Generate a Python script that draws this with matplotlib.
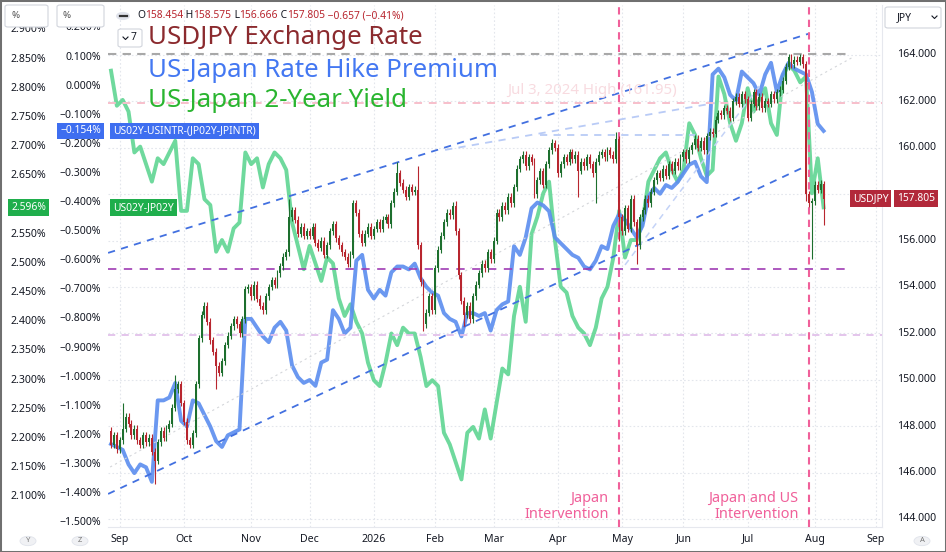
import numpy as np
import pandas as pd
import matplotlib
matplotlib.use('Agg')
import matplotlib.pyplot as plt
from matplotlib.transforms import blended_transform_factory as blend
from matplotlib.patches import Rectangle, FancyBboxPatch, Circle
from matplotlib.lines import Line2D

plt.rcParams['font.family'] = ['Noto Sans', 'DejaVu Sans']

# ---- data (daily bars, weekdays from 2025-08-27, no bar on Dec 25 / Jan 1) ----
usdjpy_open0 = 147.8
usdjpy_close = [
    147.2, 147.6, 147.0, 147.4, 147.9, 148.4, 148.1, 147.6, 147.9, 147.4,
    147.2, 147.6, 147.3, 147.5, 146.9, 146.5, 147.3, 147.8, 147.5, 147.9,
    148.1, 148.8, 149.6, 149.8, 149.0, 148.2, 147.4, 147.2, 147.7, 149.8,
    151.8, 152.8, 153.2, 152.5, 151.7, 151.2, 150.6, 150.3, 150.8, 151.5,
    151.9, 152.3, 152.6, 152.4, 152.0, 152.6, 153.9, 154.0, 153.6, 154.1,
    153.5, 153.2, 153.0, 153.6, 154.0, 154.3, 154.1, 154.6, 154.9, 155.3,
    155.5, 157.0, 157.3, 156.9, 156.3, 156.6, 156.2, 156.4, 156.2, 156.6,
    155.9, 155.7, 156.0, 155.4, 155.8, 156.4, 156.7, 156.1, 155.8, 155.5,
    155.3, 155.0, 155.4, 157.6, 157.2, 156.3, 155.9, 156.3, 156.6, 156.2,
    156.5, 156.8, 156.5, 156.9, 157.0, 156.7, 157.6, 158.1, 158.9, 158.5,
    158.2, 157.9, 158.3, 158.1, 158.2, 155.8, 154.2, 152.4, 152.9, 153.6,
    153.0, 154.8, 155.6, 156.2, 156.8, 157.2, 157.1, 157.5, 156.4, 154.5,
    153.4, 152.8, 153.2, 152.6, 153.6, 154.1, 154.6, 155.0, 154.8, 155.5,
    155.2, 156.0, 157.2, 157.0, 157.5, 157.3, 157.9, 157.6, 158.3, 159.1,
    159.5, 159.7, 159.2, 159.6, 159.4, 158.0, 158.6, 159.0, 158.4, 159.3,
    159.9, 160.2, 160.0, 158.9, 159.3, 159.6, 159.4, 159.8, 159.5, 159.7,
    159.0, 159.4, 159.2, 159.6, 159.3, 158.9, 159.4, 159.7, 159.8,
    159.6, 159.9, 159.7, 159.5, 160.4, 157.0, 156.4, 157.4, 156.5, 157.8,
    156.8, 155.8, 157.0, 157.3, 157.8, 157.6, 158.1, 158.6, 158.9, 158.7,
    159.1, 158.8, 159.3, 159.0, 159.4, 159.2, 159.6, 159.8, 159.5,
    159.9, 160.1, 160.4, 160.0, 160.3, 159.9, 160.5, 160.7, 160.6, 161.2,
    161.5, 161.4, 161.7, 161.6, 161.3, 162.0, 162.2, 161.9, 162.3, 162.1,
    161.3, 161.9, 162.4, 161.8, 162.2, 161.7, 162.0, 161.9, 162.3, 162.1,
    162.4, 162.5, 162.9, 163.5, 163.9, 163.6, 163.8, 163.7, 163.9, 163.6,
    158.0, 157.6, 157.7, 158.4, 158.2, 158.454, 157.805,
]
# notable wick extremes (bar index -> price)
usdjpy_high_marks = {4: 149.0, 22: 150.2, 61: 157.8, 98: 159.4, 105: 159.2, 118: 157.7,
                     151: 160.4, 173: 160.7, 174: 160.5, 244: 158.575}
usdjpy_low_marks = {15: 145.5, 36: 149.6, 107: 152.1, 121: 152.3, 160: 157.9, 166: 157.6,
                    174: 156.0, 180: 155.0, 238: 157.7, 240: 155.2, 244: 156.666}

# every second bar
rate_premium = [
    -1.23, -1.24, -1.25, -1.30, -1.33, -1.30, -1.31, -1.36, -1.08, -1.08,
    -1.07, -1.02, -1.15, -1.17, -1.08, -1.09, -1.13, -1.17, -1.22, -1.24,
    -1.20, -1.19, -1.18, -0.80, -0.80, -0.83, -0.86, -0.88, -0.83, -0.81,
    -0.84, -0.96, -1.00, -1.02, -1.01, -1.03, -0.95, -0.94, -0.77, -0.80,
    -0.85, -0.83, -0.60, -0.58, -0.70, -0.73, -0.70, -0.72, -0.64, -0.62,
    -0.62, -0.63, -0.61, -0.66, -0.69, -0.71, -0.72, -0.78, -0.80, -0.81,
    -0.86, -0.78, -0.78, -0.79, -0.78, -0.84, -0.77, -0.75, -0.74, -0.55,
    -0.58, -0.52, -0.42, -0.40, -0.41, -0.43, -0.52, -0.54, -0.56, -0.58,
    -0.59, -0.62, -0.63, -0.60, -0.55, -0.56, -0.48, -0.44, -0.46, -0.49,
    -0.52, -0.48, -0.38, -0.35, -0.37, -0.34, -0.35, -0.33, -0.30, -0.27,
    -0.26, -0.31, -0.33, 0.04, 0.06, 0.03, -0.03, -0.05, 0.05, 0.03,
    0.01, -0.03, 0.04, 0.08, -0.02, 0.04, 0.08, 0.06, 0.05, 0.04,
    -0.02, -0.13, -0.154,
]
yield_spread = [
    2.83, 2.77, 2.78, 2.76, 2.69, 2.70, 2.67, 2.64, 2.68, 2.67,
    2.69, 2.71, 2.59, 2.59, 2.68, 2.67, 2.61, 2.60, 2.52, 2.54,
    2.52, 2.56, 2.57, 2.69, 2.67, 2.68, 2.63, 2.67, 2.69, 2.68,
    2.66, 2.57, 2.53, 2.49, 2.53, 2.50, 2.47, 2.51, 2.50, 2.44,
    2.41, 2.43, 2.40, 2.38, 2.33, 2.30, 2.29, 2.33, 2.38, 2.36,
    2.39, 2.38, 2.38, 2.34, 2.29, 2.30, 2.29, 2.21, 2.19, 2.16,
    2.13, 2.21, 2.22, 2.20, 2.25, 2.20, 2.26, 2.32, 2.31, 2.41,
    2.46, 2.40, 2.55, 2.58, 2.62, 2.64, 2.54, 2.46, 2.45, 2.41,
    2.39, 2.38, 2.36, 2.39, 2.44, 2.46, 2.51, 2.59, 2.51, 2.54,
    2.54, 2.57, 2.64, 2.66, 2.68, 2.69, 2.66, 2.64, 2.66, 2.74,
    2.72, 2.68, 2.65, 2.66, 2.82, 2.79, 2.74, 2.71, 2.74, 2.80,
    2.76, 2.78, 2.80, 2.74, 2.72, 2.82, 2.84, 2.83, 2.81, 2.82,
    2.62, 2.68, 2.596,
]

# chart drawings (bar index, price)
channel_upper = ([-1.0, 238.7], [155.47, 164.91])
channel_lower = ([-1.0, 237.3], [145.08, 159.17])
pale_rising = ([114.4, 206.8], [159.91, 161.93])
pale_flat = ([147.0, 200.0], [160.55, 160.55])
pale_steep = ([176.0, 222.3], [154.95, 162.71])
grey_diag = ([-0.3, 254.1], [146.24, 163.91])
level_top = 164.04
level_purple = 154.78
level_jul2024 = 161.95
level_lavender = 151.93
interventions = [174, 239]
intervention_text = ['Japan\nIntervention', 'Japan and US\nIntervention']

# tick values; 158 and 2.60 sit under the last-value boxes
price_ticks = [144, 146, 148, 150, 152, 154, 156, 158, 160, 162, 164]
premium_ticks = [-1.5, -1.4, -1.3, -1.2, -1.1, -1.0, -0.9, -0.8, -0.7, -0.6, -0.5,
                 -0.4, -0.3, -0.2, -0.1, 0.0, 0.1, 0.2]
yield_ticks = [2.10, 2.15, 2.20, 2.25, 2.30, 2.35, 2.40, 2.45, 2.50, 2.55, 2.60,
               2.65, 2.70, 2.75, 2.80, 2.85, 2.90]
hidden_price, hidden_yield = [158], [2.60]

# ---- colours ----
UP, DN = '#1d6f2e', '#b8262f'
BLUE_L, GREEN_L = '#5b8def', '#5fd592'
TXT = '#131722'
PINK = '#f0609a'

W, H = 946, 552
fig = plt.figure(figsize=(W / 100, H / 100), dpi=100)
L, R, T, B = 108, 882, 5, 527
ax_g = fig.add_axes([L / W, 1 - B / H, (R - L) / W, (B - T) / H])
ax_b = ax_g.twinx()
ax_p = ax_g.twinx()

x0, x1 = -1.03, 264.0
for a, lim in ((ax_g, (2.0486, 2.9425)), (ax_b, (-1.5151, 0.2787)), (ax_p, (143.655, 166.155))):
    a.set_xlim(x0, x1)
    a.set_ylim(*lim)
    a.tick_params(left=False, right=False, bottom=False, labelleft=False,
                  labelright=False, labelbottom=False)
    for s in a.spines.values():
        s.set_visible(False)
ax_g.spines['bottom'].set_visible(True)
ax_g.spines['bottom'].set_color('#e6e8ee')
ax_g.spines['right'].set_visible(True)
ax_g.spines['right'].set_color('#e6e8ee')

# time axis from trading days
days = pd.bdate_range('2025-08-27', '2026-09-30')
days = days[~days.isin(pd.to_datetime(['2025-12-25', '2026-01-01']))]
month_pos, month_lab = [], []
for i in range(1, len(days)):
    if days[i].month != days[i - 1].month and i < x1:
        month_pos.append(i)
        month_lab.append('2026' if days[i].month == 1 else days[i].strftime('%b'))

# grid
gkw = dict(color='#e3e6ec', lw=0.8, ls=(0, (1.5, 2)), zorder=0)
for m in month_pos:
    ax_g.axvline(m, **gkw)
for p in price_ticks:
    ax_g.plot([0, 1], [p, p], transform=blend(ax_g.transAxes, ax_p.transData), **gkw)

# lines
xg = np.arange(len(yield_spread)) * 2
xb = np.arange(len(rate_premium)) * 2
ax_g.plot(xg, yield_spread, color=GREEN_L, lw=2.8, alpha=0.9, solid_joinstyle='round', zorder=2)
ax_b.plot(xb, rate_premium, color=BLUE_L, lw=2.8, alpha=0.9, solid_joinstyle='round', zorder=2)

# drawings
def seg(pts, **kw):
    ax_p.plot(pts[0], pts[1], zorder=1, **kw)

seg(channel_upper, color='#4270e0', lw=1.3, dashes=(4, 3.5))
seg(channel_lower, color='#4270e0', lw=1.3, dashes=(4, 3.5))
seg(pale_rising, color='#b9cbf6', lw=1.3, dashes=(4, 3.5))
seg(pale_flat, color='#b9cbf6', lw=1.3, dashes=(4, 3.5))
seg(pale_steep, color='#c4d3f7', lw=1.1, dashes=(4, 3.5))
seg(grey_diag, color='#d4d6da', lw=0.8, dashes=(2, 3))
seg(([x0, 253], [level_top, level_top]), color='#a8a8a8', lw=1.5, dashes=(4, 3))
seg(([x0, 253], [level_purple, level_purple]), color='#a03cb4', lw=1.2, dashes=(5, 4.5))
seg(([x0, x1], [level_jul2024, level_jul2024]), color='#f7bfcb', lw=1.4, dashes=(4, 3.5))
seg(([x0, x1], [level_lavender, level_lavender]), color='#e2c0ea', lw=1.3, dashes=(4, 3.5))
for xv, txt in zip(interventions, intervention_text):
    ax_p.axvline(xv, color=PINK, lw=1.5, dashes=(3.5, 2.5), zorder=1)
    ax_p.text(xv - 3.6, 0.040, txt, transform=blend(ax_p.transData, ax_p.transAxes),
              ha='right', va='center', multialignment='right', color=PINK,
              fontsize=10.4, linespacing=1.1, zorder=6)
ax_p.text(135.6, 162.45, 'Jul 3, 2024 High (161.95)', color='#f8dbe0', fontsize=10.8,
          ha='left', va='center', zorder=1)

# candles
close = np.array(usdjpy_close)
opn = np.r_[usdjpy_open0, close[:-1]]
xc = np.arange(len(close))
hi = np.maximum(opn, close) + 0.15
lo = np.minimum(opn, close) - 0.15
for k, v in usdjpy_high_marks.items():
    hi[k] = v
for k, v in usdjpy_low_marks.items():
    lo[k] = v
cols = np.where(close >= opn, UP, DN)
ax_p.vlines(xc, lo, hi, colors=cols, lw=0.8, zorder=3)
ax_p.bar(xc, np.maximum(np.abs(close - opn), 0.06), bottom=np.minimum(opn, close),
         width=0.66, color=cols, linewidth=0, zorder=4)

# axis labels
fs = 7.6
tg = blend(ax_p.transAxes, ax_g.transData)
tb = blend(ax_p.transAxes, ax_b.transData)
tp = blend(ax_p.transAxes, ax_p.transData)
for v in yield_ticks:
    if v in hidden_yield:
        continue
    ax_p.text(-0.080, v, f'{v:.3f}%', transform=tg, ha='right', va='center', fontsize=fs,
              color=TXT, fontweight='bold' if round(v * 1000) % 100 == 0 else 'normal',
              clip_on=False)
for v in premium_ticks:
    s = f'{v:.3f}%'.replace('-', '\u2212')
    ax_p.text(-0.009, v, s, transform=tb, ha='right', va='center', fontsize=fs, color=TXT,
              fontweight='bold' if v in (0.0, -1.5) else 'normal', clip_on=False)
for v in price_ticks:
    if v in hidden_price:
        continue
    ax_p.text(1.0194, v, f'{v:.3f}', transform=tp, ha='left', va='center', fontsize=fs,
              color=TXT, fontweight='bold' if v % 10 == 0 else 'normal', clip_on=False)
for m, lab in zip(month_pos, month_lab):
    ax_p.text(m, -0.023, lab, transform=blend(ax_p.transData, ax_p.transAxes), ha='center',
              va='center', fontsize=fs, color=TXT,
              fontweight='bold' if lab == '2026' else 'normal', clip_on=False)

# last value labels
lbl = dict(fontsize=7.4, color='white', va='center', zorder=12, clip_on=False)
ax_p.text(-0.009, rate_premium[-1], f'{rate_premium[-1]:.3f}%'.replace('-', '\u2212'),
          transform=tb, ha='right',
          bbox=dict(boxstyle='square,pad=0.28', fc='#3e6ef0', ec='none'), **lbl)
ax_p.text(0.0065, rate_premium[-1], 'US02Y-USINTR-(JP02Y-JPINTR)', transform=tb, ha='left',
          bbox=dict(boxstyle='square,pad=0.28', fc='#3e6ef0', ec='none'), **lbl)
ax_p.text(-0.080, yield_spread[-1], f'{yield_spread[-1]:.3f}%', transform=tg, ha='right',
          bbox=dict(boxstyle='square,pad=0.28', fc='#1fae4c', ec='none'), **lbl)
ax_p.text(0.0065, yield_spread[-1], 'US02Y-JP02Y', transform=tg, ha='left',
          bbox=dict(boxstyle='square,pad=0.28', fc='#1fae4c', ec='none'), **lbl)
ax_p.text(1.0085, close[-1], 'USDJPY', transform=tp, ha='right',
          bbox=dict(boxstyle='square,pad=0.28', fc='#b2283a', ec='none'), **lbl)
ax_p.text(1.0194, close[-1], f'{close[-1]:.3f}', transform=tp, ha='left',
          bbox=dict(boxstyle='square,pad=0.28', fc='#b2283a', ec='none'), **lbl)

# titles
ax_p.text(0.0517, 0.937, 'USDJPY Exchange Rate', transform=ax_p.transAxes, fontsize=18.6,
          color='#8b2a2e', va='center', zorder=7)
ax_p.text(0.0517, 0.874, 'US-Japan Rate Hike Premium', transform=ax_p.transAxes,
          fontsize=18.6, color='#4478f2', va='center', zorder=7)
ax_p.text(0.0517, 0.818, 'US-Japan 2-Year Yield', transform=ax_p.transAxes, fontsize=18.6,
          color='#2ab530', va='center', zorder=7)

# OHLC header
hdr = [('O', TXT), ('158.454', DN), (' H', TXT), ('158.575', DN), (' L', TXT),
       ('156.666', DN), (' C', TXT), ('157.805', DN), (' \u22120.657 (\u22120.41%)', DN)]
t = ax_p.text(0.0375, 0.979, hdr[0][0], transform=ax_p.transAxes, fontsize=7.4,
              color=hdr[0][1], va='center', ha='left', zorder=7)
for s, c in hdr[1:]:
    t = ax_p.annotate(s, xy=(1, 0), xycoords=t, va='bottom', ha='left', fontsize=7.4,
                      color=c, zorder=7)

# chrome: buttons and boxes in pixel coordinates
def fbox(px0, py0, px1, py1, fc='white', ec='#d1d4dc', r=3):
    fig.patches.append(FancyBboxPatch((px0 / W, 1 - py1 / H), (px1 - px0) / W, (py1 - py0) / H,
                                      boxstyle=f'round,pad=0,rounding_size={r / W}',
                                      transform=fig.transFigure, fc=fc, ec=ec, lw=0.8,
                                      zorder=20))

fbox(5, 5, 48, 27)
fbox(57, 5, 104, 27)
fig.text(11 / W, 1 - 16 / H, '%', fontsize=7, color='#555555', va='center', zorder=21)
fig.text(62 / W, 1 - 16 / H, '%', fontsize=7, color='#555555', va='center', zorder=21)
fbox(885, 7, 941, 28)
fig.text(897 / W, 1 - 17.5 / H, 'JPY', fontsize=7.4, color=TXT, va='center', zorder=21)
fig.lines.append(Line2D([932 / W, 934.5 / W, 937 / W], [1 - 16 / H, 1 - 18.5 / H, 1 - 16 / H],
                        transform=fig.transFigure, color=TXT, lw=0.8, zorder=21))
fbox(118, 29, 142, 47)
fig.lines.append(Line2D([123 / W, 125.5 / W, 128 / W], [1 - 37 / H, 1 - 39.5 / H, 1 - 37 / H],
                        transform=fig.transFigure, color=TXT, lw=0.8, zorder=21))
fig.text(131 / W, 1 - 38 / H, '7', fontsize=7.4, color=TXT, va='center', zorder=21)
fig.patches.append(Circle((123 / W, 1 - 16 / H), 7 / W, transform=fig.transFigure,
                          fc='#e0e3eb', ec='none', zorder=20))
fig.lines.append(Line2D([119.5 / W, 126.5 / W], [1 - 16 / H, 1 - 16 / H],
                        transform=fig.transFigure, color='#333333', lw=1.6, zorder=21))
for cx, ch in ((28, 'Y'), (80, 'Z'), (922, 'A')):
    fig.patches.append(Circle((cx / W, 1 - 541 / H), 8 / W, transform=fig.transFigure,
                              fc='#f0f1f4', ec='#e0e3eb', lw=0.6, zorder=20))
    fig.text(cx / W, 1 - 541 / H, ch, fontsize=5.5, color='#777777', ha='center',
             va='center', zorder=21)
fig.patches.append(Rectangle((0, 0), 1, 1, transform=fig.transFigure, fill=False,
                             ec='#707070', lw=2.2, zorder=30))

fig.savefig('out.png', dpi=100)
